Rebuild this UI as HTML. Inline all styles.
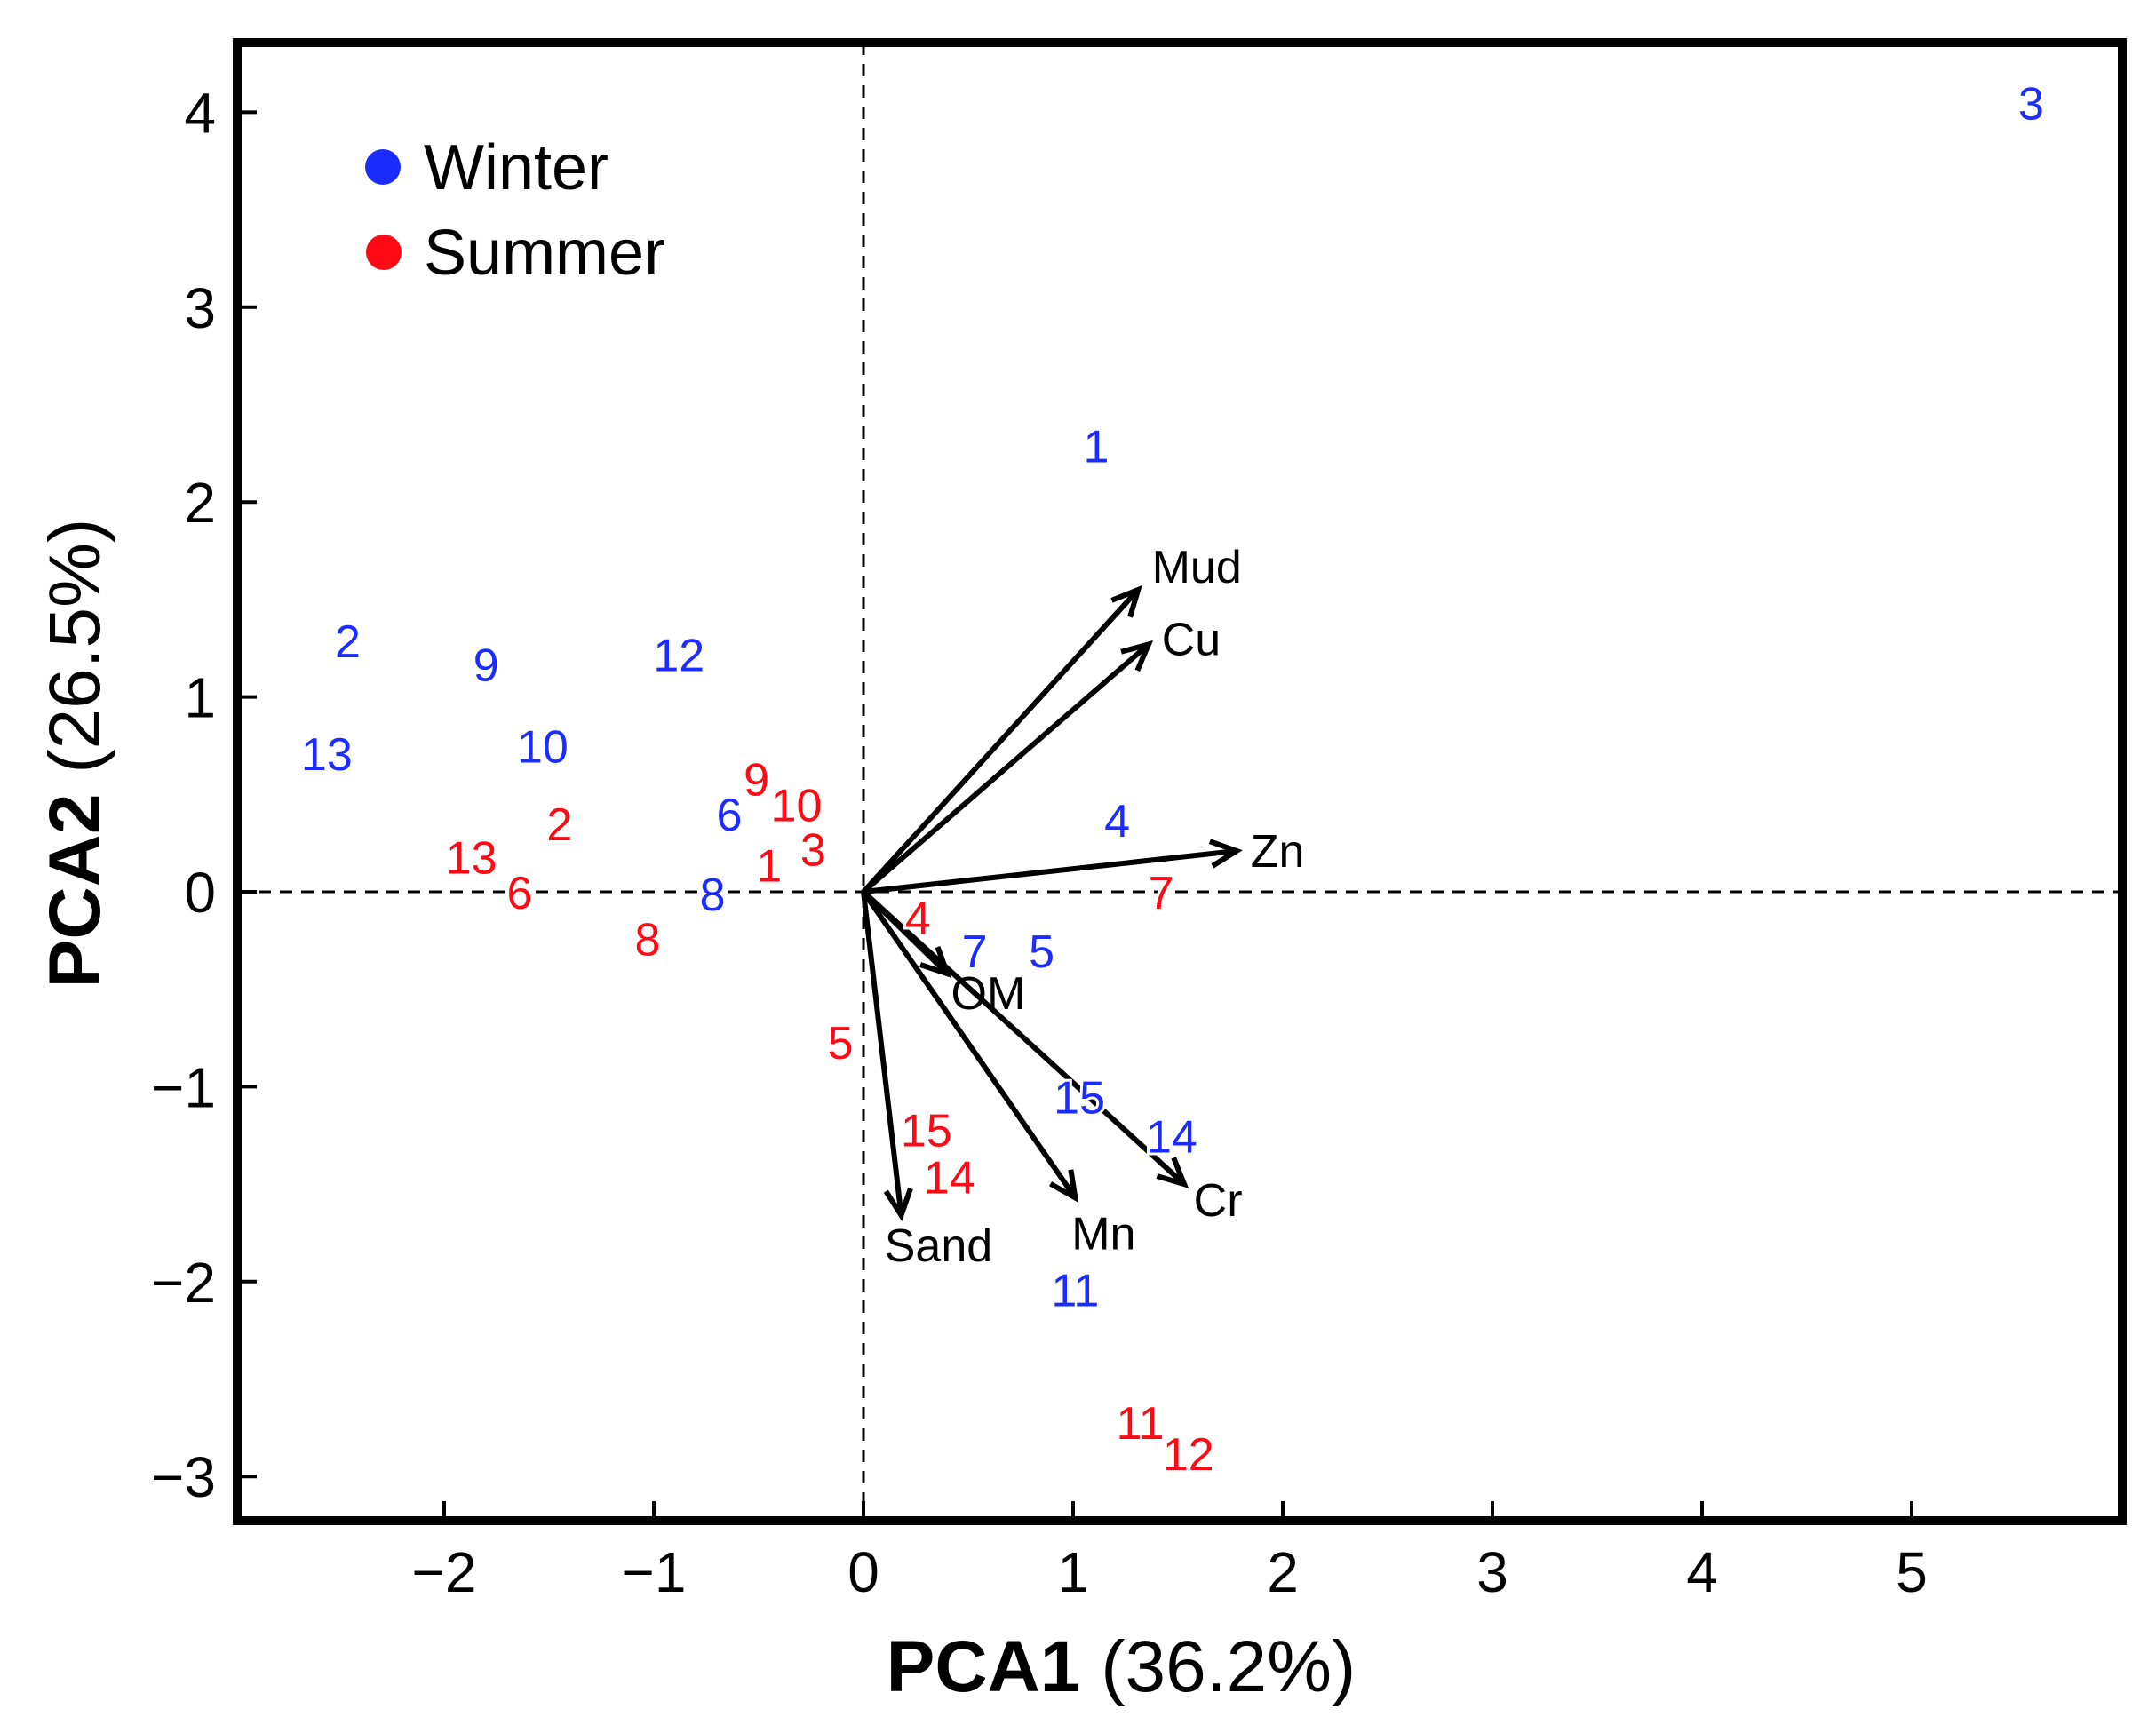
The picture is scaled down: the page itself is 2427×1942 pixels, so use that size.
<!DOCTYPE html>
<html><head><meta charset="utf-8"><style>
html,body{margin:0;padding:0;background:#fff}
svg{display:block;font-family:"Liberation Sans",Arial,sans-serif}
</style></head><body>
<svg id="chart" width="2427" height="1942" viewBox="0 0 2427 1942">
<rect x="0" y="0" width="2427" height="1942" fill="#fff"/>
<g id="marks"></g>
<g id="axes"></g>
</svg>
<script>
const winterIds=["3","1","2","9","12","13","10","6","8","4","7","5","15","14","11"];
const winterX=[5.57,1.11,-2.46,-1.80,-0.88,-2.56,-1.53,-0.64,-0.72,1.21,0.53,0.85,1.03,1.47,1.01];
const winterY=[4.05,2.29,1.29,1.17,1.22,0.71,0.75,0.40,-0.01,0.37,-0.30,-0.30,-1.05,-1.25,-2.04];
const summerIds=["9","10","2","13","6","3","1","8","4","7","5","15","14","11","12"];
const summerX=[-0.51,-0.32,-1.45,-1.87,-1.64,-0.24,-0.45,-1.03,0.26,1.42,-0.11,0.30,0.41,1.32,1.55];
const summerY=[0.58,0.45,0.35,0.18,0.00,0.22,0.14,-0.24,-0.13,0.00,-0.77,-1.22,-1.46,-2.72,-2.88];
const loadingNames=["Mud","Cu","Zn","OM","Cr","Mn","Sand"];
const loadingX=[1.31,1.36,1.78,0.40,1.53,1.01,0.18];
const loadingY=[1.55,1.27,0.21,-0.42,-1.50,-1.57,-1.66];
const xTicks=[-2,-1,0,1,2,3,4,5];
const yTicks=[-3,-2,-1,0,1,2,3,4];
// label offsets (px) relative to arrow tip - styling only
const labOff={Mud:[66,-26],Cu:[48,-6],Zn:[46,0],OM:[46,22],Cr:[38,18],Mn:[32,40],Sand:[42,34]};

const NS="http://www.w3.org/2000/svg";
const X=v=>972+v*236, Y=v=>1004-v*219.4;
const L=267,R=2389,T=48,B=1712;
function el(tag,attrs,parent){const e=document.createElementNS(NS,tag);for(const k in attrs)e.setAttribute(k,attrs[k]);parent.appendChild(e);return e;}
const marks=document.getElementById('marks'), axes=document.getElementById('axes');

let zl=el('line',{x1:X(0),x2:X(0),y1:T,y2:B,stroke:'#000','stroke-width':3,'stroke-dasharray':'14 10'},marks);


zl=el('line',{x1:L,x2:R,y1:Y(0),y2:Y(0),stroke:'#000','stroke-width':3,'stroke-dasharray':'14 10'},marks);



loadingNames.forEach((n,i)=>{
  const x2=X(loadingX[i]),y2=Y(loadingY[i]),x1=X(0),y1=Y(0);
  const g=el('g',{},marks);
  
  
  el('line',{x1,y1,x2,y2,stroke:'#000','stroke-width':6},g);
  const a=Math.atan2(y2-y1,x2-x1),h=32,s=0.45;
  el('polyline',{points:`${x2-h*Math.cos(a-s)},${y2-h*Math.sin(a-s)} ${x2},${y2} ${x2-h*Math.cos(a+s)},${y2-h*Math.sin(a+s)}`,fill:'none',stroke:'#000','stroke-width':6,'stroke-linejoin':'miter'},g);
  const o=labOff[n]||[30,0];
  const t=el('text',{x:x2+o[0],y:y2+o[1]+18,'font-size':52,'text-anchor':'middle',fill:'#000',stroke:'#fff','stroke-width':8,'paint-order':'stroke'},g);
  t.textContent=n;
  
  
});

function pts(ids,xs,ys,col,season){
  ids.forEach((id,i)=>{
    const t=el('text',{x:X(xs[i]),y:Y(ys[i])+19,'font-size':52,'text-anchor':'middle',fill:col,stroke:'#fff','stroke-width':6,'paint-order':'stroke'},marks);
    t.textContent=id;
    
    
  });
}
pts(winterIds,winterX,winterY,'#1a2cff','winter');
pts(summerIds,summerX,summerY,'#ff0a14','summer');

const fr=el('rect',{x:L,y:T,width:R-L,height:B-T,fill:'none',stroke:'#000','stroke-width':10},axes);


xTicks.forEach(v=>{
  const l=el('line',{x1:X(v),x2:X(v),y1:B,y2:B-22,stroke:'#000','stroke-width':4},axes);
  
  
  const t=el('text',{x:X(v),y:1792,'font-size':64,'text-anchor':'middle'},axes);
  t.textContent=v<0?'\u2212'+(-v):String(v);
  
  
});
yTicks.forEach(v=>{
  const l=el('line',{x1:L,x2:L+22,y1:Y(v),y2:Y(v),stroke:'#000','stroke-width':4},axes);
  
  
  const t=el('text',{x:243,y:Y(v)+23,'font-size':64,'text-anchor':'end'},axes);
  t.textContent=v<0?'\u2212'+(-v):String(v);
  
  
});
</script>
<svg style="position:absolute;left:0;top:0" width="2427" height="1942">
<text x="1262" y="1904" font-size="82" text-anchor="middle" font-family="Liberation Sans, sans-serif"><tspan font-weight="bold">PCA1</tspan> (36.2%)</text>
<text transform="translate(112,848) rotate(-90)" font-size="82" text-anchor="middle" font-family="Liberation Sans, sans-serif"><tspan font-weight="bold">PCA2</tspan> (26.5%)</text>
<g>
<circle cx="431" cy="188" r="20" fill="#1a2cff"/>
<text x="477" y="213" font-size="72" font-family="Liberation Sans, sans-serif">Winter</text>
<circle cx="432" cy="284" r="20" fill="#ff0a14"/>
<text x="477" y="309" font-size="72" font-family="Liberation Sans, sans-serif">Summer</text>
</g>
</svg>
</body></html>
